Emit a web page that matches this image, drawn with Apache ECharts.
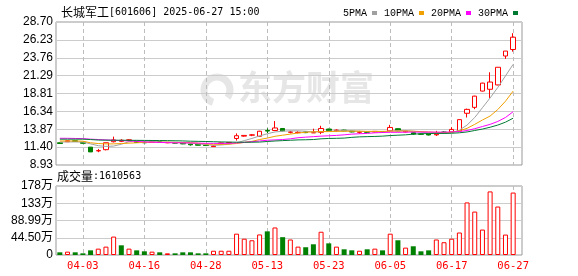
<!DOCTYPE html>
<html><head><meta charset="utf-8">
<script src="https://cdn.jsdelivr.net/npm/echarts@6/dist/echarts.min.js"></script>
<style>html,body{margin:0;padding:0;background:#fff}#c{width:578px;height:276px}</style>
</head><body><div id="c"></div>
<script>
const dates = ['03-31','04-01','04-02','04-03','04-07','04-08','04-09','04-10','04-11','04-14',
'04-15','04-16','04-17','04-18','04-21','04-22','04-23','04-24','04-25','04-28',
'04-29','04-30','05-06','05-07','05-08','05-09','05-12','05-13','05-14','05-15',
'05-16','05-19','05-20','05-21','05-22','05-23','05-26','05-27','05-28','05-29',
'05-30','06-03','06-04','06-05','06-06','06-09','06-10','06-11','06-12','06-13',
'06-16','06-17','06-18','06-19','06-20','06-23','06-24','06-25','06-26','06-27'];
// [open, close, low, high]
const candles = [
[12.00,11.90,11.85,12.05],[12.15,12.28,12.10,12.32],[12.28,12.20,12.15,12.32],[12.05,11.93,11.88,12.10],
[11.40,10.74,10.74,11.42],[10.88,10.92,10.70,11.15],[11.05,12.01,10.95,12.01],[12.15,12.40,12.05,12.85],
[12.20,12.35,12.10,12.50],[12.30,12.42,12.22,12.50],[12.22,12.05,12.00,12.25],[12.10,12.00,11.95,12.15],
[12.05,12.15,12.00,12.30],[12.15,12.05,12.00,12.18],[12.00,12.05,11.95,12.10],[12.05,11.95,11.90,12.08],
[11.95,11.85,11.80,12.00],[11.83,11.72,11.60,11.90],[11.78,11.66,11.62,11.82],[11.70,11.62,11.58,11.75],
[11.47,11.56,11.42,11.62],[11.85,11.98,11.80,12.02],[11.98,12.05,11.92,12.10],[12.60,12.98,12.30,13.30],
[12.92,13.02,12.85,13.05],[13.05,13.10,12.92,13.20],[12.90,13.60,12.85,13.65],[13.70,13.62,13.35,14.00],
[13.70,14.05,13.65,15.00],[13.98,13.65,13.60,14.00],[13.45,13.50,13.30,13.65],[13.40,13.45,13.30,13.60],
[13.50,13.40,13.35,13.55],[13.38,13.40,13.35,13.95],[13.45,13.98,13.20,14.35],[13.90,13.68,13.60,13.95],
[13.68,13.75,13.55,13.85],[13.75,13.65,13.60,13.80],[13.60,13.50,13.45,13.65],[13.45,13.50,13.25,13.65],
[13.52,13.45,13.35,13.58],[13.50,13.58,13.45,13.62],[13.55,13.48,13.42,13.60],[13.65,14.12,13.60,14.48],
[13.95,13.65,13.60,14.00],[13.50,13.60,13.45,13.65],[13.40,13.20,13.10,13.45],[13.22,13.18,13.12,13.28],
[13.25,13.08,13.02,13.28],[13.10,13.20,12.95,13.65],[13.50,13.40,13.30,13.60],[13.50,13.85,13.45,14.15],
[13.62,15.20,13.58,15.24],[16.08,16.62,15.50,16.72],[16.90,18.45,16.65,18.50],[19.15,20.25,19.10,20.30],
[19.40,20.40,18.20,21.75],[20.00,22.44,19.95,22.44],[24.00,24.68,23.60,24.68],[24.90,26.60,24.60,27.15]];
// volume in 万
const volumes = [6.9,8.6,6.9,4.3,12,16.4,21.6,47.5,25,16.4,
12,9.5,8.6,6.9,4.3,4.3,6.9,6.9,4.3,4.3,
11,11,11,55,42,38,53,61,71,46,
40,21.6,20,27.6,60,30,21.6,14.7,12.1,11,
14.7,16.4,12,55,38,19,22.5,9.5,12,40,
33,42,58,135.6,112,65.6,164,125,52.7,161.06];
const volDir = [-1,1,-1,-1,-1,1,1,1,-1,1,
-1,-1,1,-1,1,-1,-1,-1,-1,-1,
1,1,1,1,1,1,1,-1,1,-1,
1,1,-1,-1,1,-1,1,-1,-1,1,
-1,1,-1,1,-1,1,-1,-1,-1,1,
1,1,1,1,1,1,1,1,1,1];
const ma5 = [12.1,12.12,12.12,12.1,11.85,11.6,11.5,11.55,11.8,12.15,12.3,12.25,12.2,12.12,12.08,12.05,12.0,11.95,11.85,11.75,
11.65,11.7,11.8,12.0,12.3,12.6,12.95,13.25,13.5,13.6,13.65,13.65,13.6,13.5,13.55,13.6,13.65,13.7,13.65,13.6,
13.55,13.55,13.52,13.62,13.7,13.68,13.6,13.5,13.35,13.28,13.3,13.4,13.75,14.45,15.5,16.85,18.2,19.65,21.25,22.85];
const ma10 = [12.25,12.25,12.25,12.22,12.0,11.9,11.85,11.85,11.9,11.95,
12.0,12.05,12.05,12.08,12.08,12.05,12.05,12.02,11.95,11.85,11.8,11.8,11.82,
11.9,12.05,12.2,12.45,12.65,12.9,13.05,13.2,13.35,13.45,13.52,13.55,13.55,
13.58,13.6,13.6,13.6,13.58,13.58,13.58,13.6,13.62,13.62,13.6,13.55,13.5,13.45,13.42,13.45,
13.65,14.0,14.55,15.15,15.7,16.6,17.75,19.15];
const ma20 = [12.62,12.62,12.6,12.58,12.5,12.45,12.4,12.35,12.3,12.25,12.2,
12.12,12.08,12.05,12.02,12.0,12.0,11.98,11.95,11.93,11.92,11.92,11.93,
11.98,12.05,12.15,12.25,12.35,12.4,12.45,12.55,
12.7,12.78,12.85,12.92,12.97,13.02,13.1,13.2,13.25,13.3,13.38,13.42,13.45,
13.45,13.47,13.48,13.48,13.48,13.47,13.47,13.5,
13.55,13.7,13.95,14.25,14.55,14.95,15.5,16.3];
const ma30 = [12.5,12.5,12.5,12.5,12.45,
12.38,12.36,12.35,12.35,12.34,12.34,12.33,12.32,12.31,12.3,12.28,12.26,
12.22,12.2,12.18,12.15,12.12,12.1,12.08,12.08,12.08,12.1,
12.18,12.25,12.3,12.35,12.4,12.42,12.45,12.55,12.6,12.62,
12.65,12.75,12.82,12.85,12.88,12.92,
13.0,13.05,13.1,13.2,13.25,13.28,13.3,13.3,13.32,
13.38,13.5,13.7,13.9,14.15,14.45,14.85,15.4];
const priceTicks = ['8.93','11.40','13.87','16.34','18.81','21.29','23.76','26.23','28.70'];
const volTicks = ['0','44.50万','88.99万','133万','178万'];
const labelDates = ['04-03','04-16','04-28','05-13','05-23','06-05','06-17','06-27'];

const RED = '#ff0000', GREEN = '#008000';
const chart = echarts.init(document.getElementById('c'), null, {renderer:'canvas'});
const yLab = {color:'#000', fontSize:12, fontFamily:'Arial, "Liberation Sans", "Noto Sans CJK SC"', margin:3};
const gridLine = {lineStyle:{color:'#cccccc', width:1}};
const vLine = {show:true, interval:(i,v)=>labelDates.includes(v), alignWithLabel:true,
  lineStyle:{color:'#bdbdbd', type:[4,3], width:1}};
const maSeries = (name, data, color) => ({
  name, type:'line', data, xAxisIndex:1, yAxisIndex:1, symbol:'none', showSymbol:false,
  lineStyle:{color, width:1}, itemStyle:{color}, z:3, silent:true
});
chart.setOption({
  animation:false,
  title:{left:56, top:1, text:'{a|长城军工}{b|[601606] 2025-06-27 15:00}',
    textStyle:{fontWeight:'normal', rich:{a:{fontFamily:'"Noto Sans CJK SC"', fontSize:12, fontWeight:'normal', color:'#000'},
                     b:{fontFamily:'"DejaVu Sans Mono"', fontSize:10, fontWeight:'normal', color:'#000'}}}},
  legend:{left:338, top:3, align:'right', icon:'rect', itemWidth:5, itemHeight:4, itemGap:7, selectedMode:false,
    data:['5PMA','10PMA','20PMA','30PMA'],
    textStyle:{fontFamily:'"Liberation Mono"', fontSize:10, color:'#000'}},
  graphic:[
    {type:'arc', silent:true, z:-10, shape:{cx:217, cy:90, r:13, startAngle:Math.PI*0.6, endAngle:Math.PI*2.2},
      style:{stroke:'#e6e6e6', lineWidth:7, fill:null}},
    {type:'text', silent:true, z:-10, left:238, top:70,
      style:{text:'东方财富', font:'bold 34px "Noto Sans CJK SC"', fill:'#e6e6e6'}},
    {type:'text', silent:true, left:57, top:170,
      style:{rich:{a:{fontFamily:'"Noto Sans CJK SC"', fontSize:12, fill:'#000'},
                   b:{fontFamily:'"DejaVu Sans Mono"', fontSize:10, fill:'#000'}},
             text:'{a|成交量}{b|:1610563}'}}
  ],
  grid:[
    {left:56, right:56, top:22, height:143, show:true, borderColor:'#999', borderWidth:1, backgroundColor:'transparent'},
    {left:56, width:461, top:22, height:143},
    {left:56, right:56, top:186, height:69, show:true, borderColor:'#999', borderWidth:1, backgroundColor:'transparent'},
    {left:56, width:461, top:186, height:69}
  ],
  xAxis:[
    {type:'value', gridIndex:0, min:0, max:1, show:false},
    {type:'category', gridIndex:1, data:dates, boundaryGap:true, axisLine:{show:false}, axisTick:{show:false},
      axisLabel:{show:false}, splitLine:vLine},
    {type:'value', gridIndex:2, min:0, max:1, show:false},
    {type:'category', gridIndex:3, data:dates, boundaryGap:true, axisLine:{show:false}, axisTick:{show:false},
      axisLabel:{interval:(i,v)=>labelDates.includes(v), color:RED, fontSize:10.5, fontFamily:'"DejaVu Sans Mono"', margin:6},
      splitLine:vLine}
  ],
  yAxis:[
    {type:'value', gridIndex:0, min:0, max:8, interval:1, axisLine:{show:false}, axisTick:{show:false},
      splitLine:gridLine, axisLabel:Object.assign({formatter:v=>priceTicks[Math.round(v)]}, yLab)},
    {type:'value', gridIndex:1, min:8.93, max:28.70, show:false, splitLine:{show:false}},
    {type:'value', gridIndex:2, min:0, max:4, interval:1, axisLine:{show:false}, axisTick:{show:false},
      splitLine:gridLine, axisLabel:Object.assign({formatter:v=>volTicks[Math.round(v)]}, yLab)},
    {type:'value', gridIndex:3, min:0, max:177.98, show:false, splitLine:{show:false}}
  ],
  series:[
    {type:'candlestick', name:'K', xAxisIndex:1, yAxisIndex:1, data:candles, barWidth:5, silent:true, z:2,
      itemStyle:{color:'#ffffff', color0:GREEN, borderColor:RED, borderColor0:GREEN, borderWidth:1}},
    maSeries('5PMA', ma5, '#a0a0a0'),
    maSeries('10PMA', ma10, '#f0a000'),
    maSeries('20PMA', ma20, '#ff00ff'),
    maSeries('30PMA', ma30, '#007a33'),
    {type:'bar', name:'VOL', xAxisIndex:3, yAxisIndex:3, barWidth:5, silent:true, z:2,
      data:volumes.map((v,i)=>({value:v, itemStyle: volDir[i] > 0 ?
        {color:'#ffffff', borderColor:RED, borderWidth:1} : {color:GREEN, borderColor:GREEN, borderWidth:0}}))}
  ]
});
</script></body></html>
